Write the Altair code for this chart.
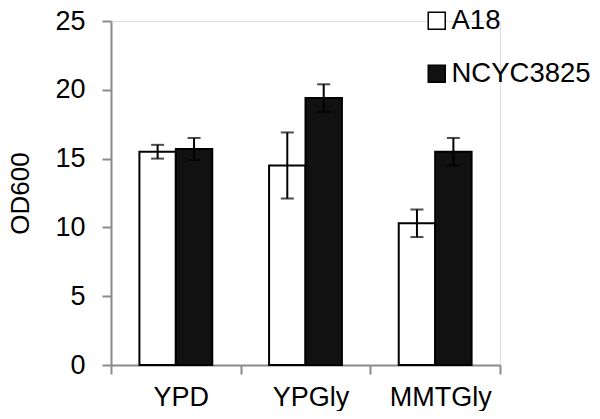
import altair as alt
import pandas as pd

categories = ["YPD", "YPGly", "MMTGly"]
series = ["A18", "NCYC3825"]
a18_values = [15.5, 14.5, 10.3]
a18_errors = [0.5, 2.4, 1.0]
ncyc_values = [15.7, 19.4, 15.5]
ncyc_errors = [0.8, 1.0, 1.0]

rows = []
for i, c in enumerate(categories):
    rows.append({"cat": c, "strain": series[0], "v": a18_values[i], "e": a18_errors[i]})
    rows.append({"cat": c, "strain": series[1], "v": ncyc_values[i], "e": ncyc_errors[i]})
df = pd.DataFrame(rows)
df["lo"] = df["v"] - df["e"]
df["hi"] = df["v"] + df["e"]

FONT = "Liberation Sans"
GRAY = "#8a8a8a"

x = alt.X("cat:N", sort=categories, title=None,
          scale=alt.Scale(paddingInner=0, paddingOuter=0),
          axis=alt.Axis(labelAngle=0, labelFontSize=27, labelFont=FONT, labelColor="black",
                        domainColor=GRAY, domainWidth=2, tickColor=GRAY, tickWidth=2,
                        tickSize=9, tickBand="extent", labelBaseline="alphabetic",
                        labelPadding=31, labelOffset=5))
xo = alt.XOffset("strain:N", sort=series,
                 scale=alt.Scale(paddingInner=0, paddingOuter=0.78))
yscale = alt.Scale(domain=[0, 25])

bars = alt.Chart(df).mark_bar(stroke="black", strokeWidth=2).encode(
    x=x, xOffset=xo,
    y=alt.Y("v:Q", scale=yscale, title="OD600",
            axis=alt.Axis(values=[0, 5, 10, 15, 20, 25], grid=False, labelFontSize=27,
                          labelFont=FONT, labelColor="black", domainColor=GRAY, domainWidth=2,
                          tickColor=GRAY, tickWidth=2, tickSize=9, labelPadding=17,
                          titleFontSize=26, titleFont=FONT, titleFontWeight="normal",
                          titleColor="black", titleX=-83, titleY=172, titleAngle=270,
                          titleBaseline="alphabetic", titleAlign="center")),
    fill=alt.Fill("strain:N", sort=series,
                  scale=alt.Scale(domain=series, range=["white", "#111111"]),
                  legend=alt.Legend(title=None, orient="none", legendX=312, legendY=-14,
                                    symbolType="square", symbolSize=289,
                                    symbolStrokeColor="black", symbolStrokeWidth=1.5,
                                    labelFontSize=27.5, labelFont=FONT, labelColor="black",
                                    labelOffset=1, rowPadding=24, padding=0)),
)

rules = alt.Chart(df).mark_rule(color="black", strokeWidth=2).encode(
    x=x, xOffset=xo, y=alt.Y("lo:Q", scale=yscale), y2="hi:Q")
caps_lo = alt.Chart(df).mark_tick(color="black", thickness=2, size=13).encode(
    x=x, xOffset=xo, y=alt.Y("lo:Q", scale=yscale))
caps_hi = alt.Chart(df).mark_tick(color="black", thickness=2, size=13).encode(
    x=x, xOffset=xo, y=alt.Y("hi:Q", scale=yscale))

chart = alt.layer(bars, rules, caps_lo, caps_hi).properties(
    width=389, height=344,
    autosize=alt.AutoSizeParams(type="none"),
    padding={"left": 103, "top": 13, "right": 92, "bottom": 46},
).configure_view(stroke=None).configure(background="white")

chart.save("out.html", embed_options={"renderer": "svg", "actions": False})
